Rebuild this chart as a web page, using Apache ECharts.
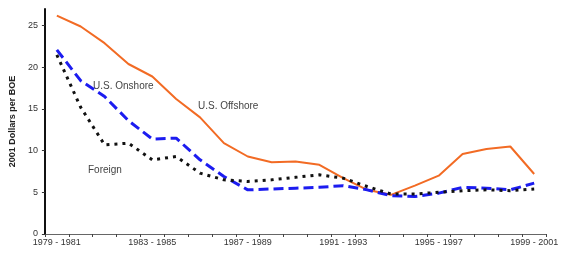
<!DOCTYPE html>
<html>
<head>
<meta charset="utf-8">
<script src="https://cdn.jsdelivr.net/npm/echarts@6/dist/echarts.min.js"></script>
<style>
  html, body { margin: 0; padding: 0; background: #fff; }
  #chart { width: 561px; height: 255px; }
</style>
</head>
<body>
<div id="chart"></div>
<script>
// ==============================================================
// data
// ==============================================================
var periods = ['1979 - 1981','1980 - 1982','1981 - 1983','1982 - 1984','1983 - 1985','1984 - 1986','1985 - 1987',
  '1986 - 1988','1987 - 1989','1988 - 1990','1989 - 1991','1990 - 1992','1991 - 1993','1992 - 1994',
  '1993 - 1995','1994 - 1996','1995 - 1997','1996 - 1998','1997 - 1999','1998 - 2000','1999 - 2001'];
var offshore = [26.2, 24.9, 22.9, 20.4, 18.9, 16.2, 14.0, 10.9, 9.3, 8.6, 8.7, 8.3, 6.7, 5.3, 4.7, 5.8, 7.0, 9.6, 10.2, 10.5, 7.2];
var onshore  = [22.1, 18.4, 16.5, 13.6, 11.4, 11.5, 8.9, 6.9, 5.3, 5.4, 5.5, 5.6, 5.8, 5.3, 4.6, 4.5, 4.9, 5.6, 5.5, 5.3, 6.1];
var foreign  = [21.5, 15.2, 10.7, 10.9, 8.9, 9.3, 7.3, 6.5, 6.3, 6.5, 6.8, 7.1, 6.7, 5.7, 4.8, 4.8, 5.0, 5.2, 5.3, 5.2, 5.4];
var yTicks = [0, 5, 10, 15, 20, 25];

var myChart = echarts.init(document.getElementById('chart'));

option = {
    animation: false,
    grid: { left: 40, right: 11, top: 9, bottom: 21 },
    xAxis: {
        type: 'category',
        data: periods,
        boundaryGap: true,
        axisLine: { lineStyle: { color: '#666', width: 1 } },
        axisTick: { show: true, interval: 0, length: 3, lineStyle: { color: '#444' } },
        axisLabel: {
            interval: 3, margin: 4,
            color: '#333', fontFamily: 'Liberation Sans', fontSize: 9
        }
    },
    yAxis: {
        type: 'value',
        min: 0, max: 27, interval: 5,
        name: '2001 Dollars per BOE',
        nameLocation: 'middle',
        nameGap: 21,
        nameTextStyle: { color: '#222', fontFamily: 'Liberation Sans', fontSize: 9, fontWeight: 'bold' },
        splitLine: { show: false },
        axisLine: { show: true, lineStyle: { color: '#111', width: 2 } },
        axisTick: { show: true, length: 3, lineStyle: { color: '#333' } },
        axisLabel: {
            showMaxLabel: false, margin: 7,
            color: '#333', fontFamily: 'Liberation Sans', fontSize: 9,
            formatter: function (v) { return yTicks.indexOf(v) >= 0 ? String(v) : ''; }
        }
    },
    series: [
        {
            name: 'U.S. Offshore', type: 'line', data: offshore,
            symbol: 'none', z: 3,
            lineStyle: { color: '#f26b24', width: 2 }
        },
        {
            name: 'U.S. Onshore', type: 'line', data: onshore,
            symbol: 'none', z: 4,
            lineStyle: { color: '#1c1cf0', width: 3, type: [10, 5] }
        },
        {
            name: 'Foreign', type: 'line', data: foreign,
            symbol: 'none', z: 5,
            lineStyle: { color: '#111', width: 3, type: [3, 5] }
        }
    ],
    graphic: [
        { type: 'text', left: 93, top: 81, style: { text: 'U.S. Onshore', fill: '#444', font: '10px "Liberation Sans"' } },
        { type: 'text', left: 198, top: 101, style: { text: 'U.S. Offshore', fill: '#444', font: '10px "Liberation Sans"' } },
        { type: 'text', left: 88, top: 165, style: { text: 'Foreign', fill: '#444', font: '10px "Liberation Sans"' } }
    ]
};

myChart.setOption(option, true);
</script>
</body>
</html>
